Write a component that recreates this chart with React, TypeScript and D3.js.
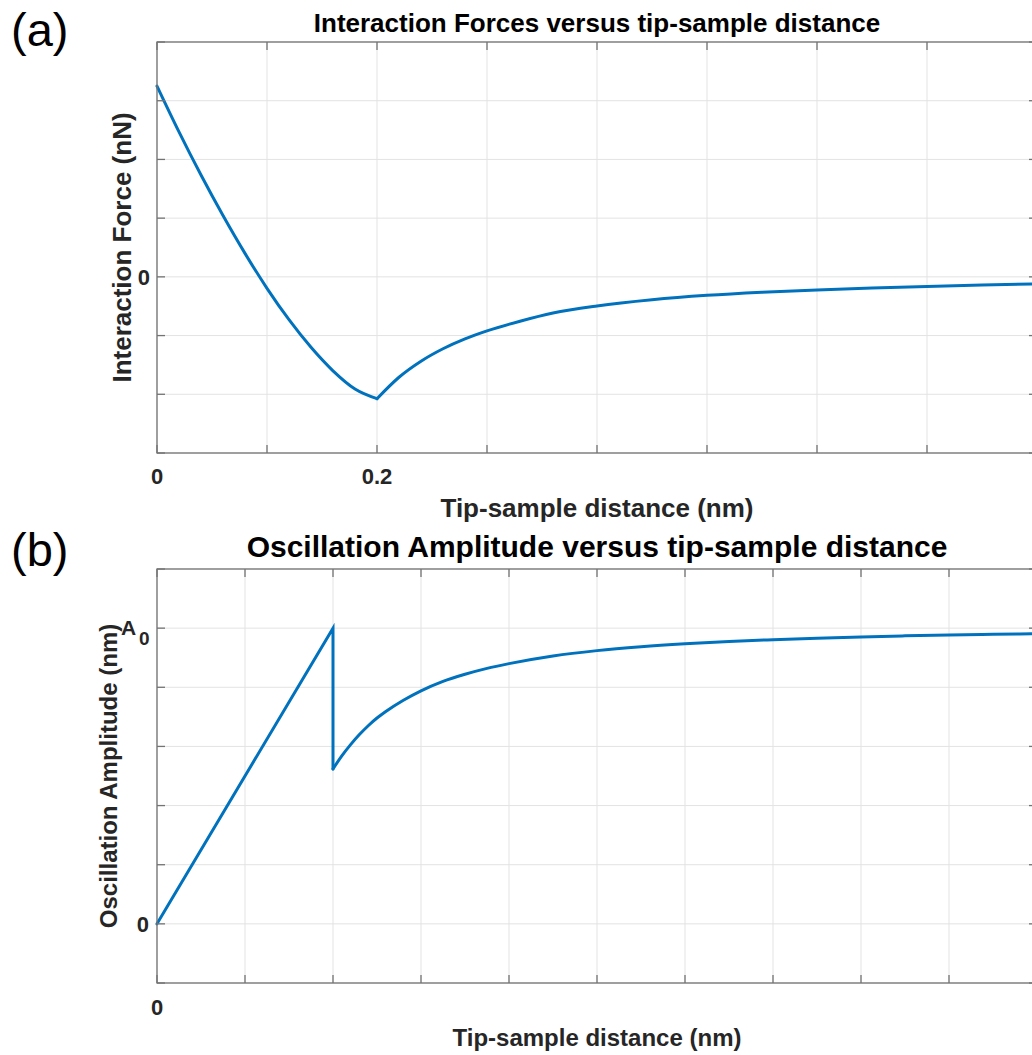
import React from "react";
import * as d3 from "d3";

// ---- Panel (a): interaction force vs tip-sample distance ----
const forceXAttract = [0, 0.02, 0.04, 0.06, 0.08, 0.1, 0.12, 0.14, 0.16, 0.18, 0.2];
const forceYAttract = [3.25, 2.47, 1.735, 1.045, 0.4, -0.195, -0.73, -1.2, -1.6, -1.91, -2.075];
const forceXFar = [0.2, 0.22, 0.24, 0.26, 0.28, 0.3, 0.33, 0.36, 0.4, 0.45, 0.5, 0.55, 0.6, 0.65, 0.7, 0.75, 0.8];
const forceYFar = [-2.075, -1.71, -1.437, -1.225, -1.057, -0.921, -0.755, -0.615, -0.495, -0.39, -0.315, -0.262, -0.222, -0.19, -0.163, -0.14, -0.12];
const forceXTicks = [0, 0.1, 0.2, 0.3, 0.4, 0.5, 0.6, 0.7, 0.8];
const forceXTickLabels = ["0", "", "0.2", "", "", "", "", "", ""];
const forceYTicks = [-3, -2, -1, 0, 1, 2, 3, 4];
const forceYTickLabels = ["", "", "", "0", "", "", "", ""];

// ---- Panel (b): oscillation amplitude vs tip-sample distance ----
const ampXNear = [0, 2, 2];
const ampYNear = [0, 5, 2.62];
const ampXFar = [2, 2.1, 2.2, 2.3, 2.4, 2.5, 2.6, 2.8, 3.0, 3.25, 3.5, 3.75, 4, 4.5, 5, 5.5, 6, 6.5, 7, 7.5, 8, 8.5, 9, 9.5, 10];
const ampYFar = [2.62, 2.84, 3.03, 3.2, 3.35, 3.48, 3.59, 3.78, 3.94, 4.1, 4.22, 4.32, 4.4, 4.53, 4.62, 4.685, 4.735, 4.775, 4.805, 4.83, 4.852, 4.87, 4.884, 4.896, 4.905];
const ampXTicks = [0, 1, 2, 3, 4, 5, 6, 7, 8, 9, 10];
const ampYTicks = [-1, 0, 1, 2, 3, 4, 5, 6];

const FONT = "'Liberation Sans', Arial, Helvetica, sans-serif";
const LINE = "#0072BD";
const AXIS = "#737373";
const GRID = "#e3e3e3";
const TXT = "#262626";
const LW = 3;

type Pt = [number, number];
const zip = (xs: number[], ys: number[]): Pt[] => xs.map((x, i) => [x, ys[i]]);

function Grid({ x, y, xTicks, yTicks }: any) {
  const [x0, x1] = x.range();
  const [y0, y1] = y.range();
  return (
    <g>
      {xTicks.map((t: number, i: number) => (
        <line key={"gx" + i} x1={x(t)} x2={x(t)} y1={y0} y2={y1} stroke={GRID} strokeWidth={1} />
      ))}
      {yTicks.map((t: number, i: number) => (
        <line key={"gy" + i} x1={x0} x2={x1} y1={y(t)} y2={y(t)} stroke={GRID} strokeWidth={1} />
      ))}
    </g>
  );
}

function Box({ x, y, xTicks, yTicks }: any) {
  const [x0, x1] = x.range();
  const [y0, y1] = y.range();
  const tl = 8;
  return (
    <g stroke={AXIS} strokeWidth={1.3} fill="none">
      <rect x={x0} y={y1} width={x1 - x0} height={y0 - y1} />
      {xTicks.map((t: number, i: number) => (
        <g key={"tx" + i}>
          <line x1={x(t)} x2={x(t)} y1={y0} y2={y0 - tl} />
          <line x1={x(t)} x2={x(t)} y1={y1} y2={y1 + tl} />
        </g>
      ))}
      {yTicks.map((t: number, i: number) => (
        <g key={"ty" + i}>
          <line x1={x0} x2={x0 + tl} y1={y(t)} y2={y(t)} />
          <line x1={x1} x2={x1 - tl} y1={y(t)} y2={y(t)} />
        </g>
      ))}
    </g>
  );
}

export default function App() {
  const xa = d3.scaleLinear().domain([0, 0.8]).range([157, 1037]);
  const ya = d3.scaleLinear().domain([-3, 4]).range([453, 42]);
  const xb = d3.scaleLinear().domain([0, 10]).range([157, 1037]);
  const yb = d3.scaleLinear().domain([-1, 6]).range([983, 569]);

  const lineA = d3.line<Pt>().x((d) => xa(d[0])).y((d) => ya(d[1])).curve(d3.curveMonotoneX);
  const lineB = d3.line<Pt>().x((d) => xb(d[0])).y((d) => yb(d[1])).curve(d3.curveMonotoneX);
  const lineBLin = d3.line<Pt>().x((d) => xb(d[0])).y((d) => yb(d[1]));

  return (
    <svg
      width={1032}
      height={1055}
      style={{ position: "absolute", left: 0, top: 0, background: "#fff" }}
      fontFamily={FONT}
    >
      <rect x={0} y={0} width={1032} height={1055} fill="#fff" />

      {/* ---------- Panel (a) ---------- */}
      <text x={11} y={46} fontSize={47} fill="#000">(a)</text>
      <text x={597} y={32} fontSize={26} fontWeight="bold" textAnchor="middle" fill="#000">
        Interaction Forces versus tip-sample distance
      </text>
      <Grid x={xa} y={ya} xTicks={forceXTicks} yTicks={forceYTicks} />
      <path d={lineA(zip(forceXAttract, forceYAttract)) || ""} fill="none" stroke={LINE} strokeWidth={LW} strokeLinejoin="round" strokeLinecap="round" />
      <path d={lineA(zip(forceXFar, forceYFar)) || ""} fill="none" stroke={LINE} strokeWidth={LW} strokeLinejoin="round" strokeLinecap="round" />
      <Box x={xa} y={ya} xTicks={forceXTicks} yTicks={forceYTicks} />
      {forceXTicks.map((t, i) =>
        forceXTickLabels[i] ? (
          <text key={"xl" + i} x={xa(t)} y={484} fontSize={22} fontWeight="bold" textAnchor="middle" fill={TXT}>
            {forceXTickLabels[i]}
          </text>
        ) : null
      )}
      {forceYTicks.map((t, i) =>
        forceYTickLabels[i] ? (
          <text key={"yl" + i} x={150} y={ya(t) + 8} fontSize={22} fontWeight="bold" textAnchor="end" fill={TXT}>
            {forceYTickLabels[i]}
          </text>
        ) : null
      )}
      <text x={597} y={517} fontSize={26} fontWeight="bold" textAnchor="middle" fill={TXT}>
        Tip-sample distance (nm)
      </text>
      <text
        transform={`translate(131, ${(453 + 42) / 2}) rotate(-90)`}
        fontSize={26}
        fontWeight="bold"
        textAnchor="middle"
        fill={TXT}
      >
        Interaction Force (nN)
      </text>

      {/* ---------- Panel (b) ---------- */}
      <text x={11} y={566} fontSize={47} fill="#000">(b)</text>
      <text x={597} y={557} fontSize={30} fontWeight="bold" textAnchor="middle" fill="#000">
        Oscillation Amplitude versus tip-sample distance
      </text>
      <Grid x={xb} y={yb} xTicks={ampXTicks} yTicks={ampYTicks} />
      <path d={lineBLin(zip(ampXNear, ampYNear)) || ""} fill="none" stroke={LINE} strokeWidth={LW} strokeLinejoin="miter" strokeLinecap="round" />
      <path d={lineB(zip(ampXFar, ampYFar)) || ""} fill="none" stroke={LINE} strokeWidth={LW} strokeLinejoin="round" strokeLinecap="round" />
      <Box x={xb} y={yb} xTicks={ampXTicks} yTicks={ampYTicks} />
      <text x={xb(0)} y={1015} fontSize={22} fontWeight="bold" textAnchor="middle" fill={TXT}>0</text>
      <text x={149} y={yb(0) + 8} fontSize={22} fontWeight="bold" textAnchor="end" fill={TXT}>0</text>
      <text x={121} y={yb(5) + 7} fontSize={21} fontWeight="bold" fill={TXT}>A</text>
      <text x={139} y={yb(5) + 17} fontSize={19} fontWeight="bold" fill={TXT}>0</text>
      <text x={597} y={1046} fontSize={24} fontWeight="bold" textAnchor="middle" fill={TXT}>
        Tip-sample distance (nm)
      </text>
      <text
        transform={`translate(117, ${(983 + 569) / 2}) rotate(-90)`}
        fontSize={24}
        fontWeight="bold"
        textAnchor="middle"
        fill={TXT}
      >
        Oscillation Amplitude (nm)
      </text>
    </svg>
  );
}
